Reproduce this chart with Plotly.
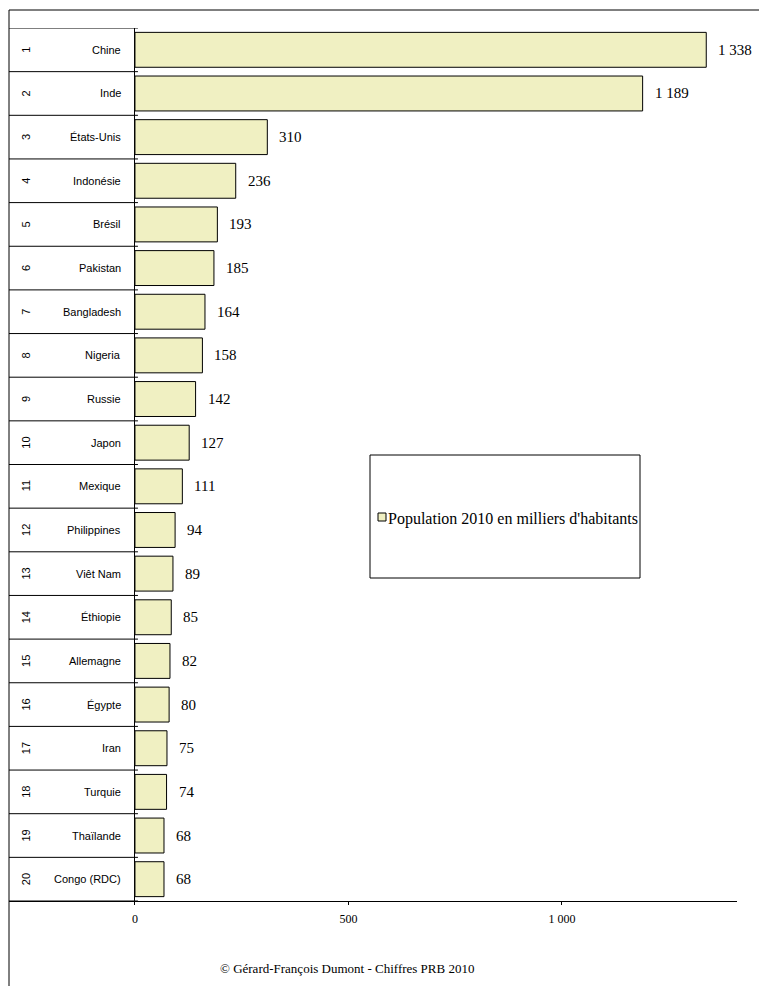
import plotly.graph_objects as go

ranks = list(range(1, 21))
countries = ["Chine", "Inde", "États-Unis", "Indonésie", "Brésil", "Pakistan",
             "Bangladesh", "Nigeria", "Russie", "Japon", "Mexique", "Philippines",
             "Viêt Nam", "Éthiopie", "Allemagne", "Égypte", "Iran", "Turquie",
             "Thaïlande", "Congo (RDC)"]
population = [1338, 1189, 310, 236, 193, 185, 164, 158, 142, 127, 111, 94,
              89, 85, 82, 80, 75, 74, 68, 68]
x_ticks = [0, 500, 1000]
x_tick_labels = ["0", "500", "1 000"]
series_name = "Population 2010 en milliers d'habitants"
credit = "© Gérard-François Dumont - Chiffres PRB 2010"


def fmt(v):
    return f"{v:,}".replace(",", " ")


XMIN, XMAX = -295, 1410
SERIF = "Liberation Serif, Times New Roman, serif"
SANS = "Liberation Sans, Arial, sans-serif"
FILL = "rgb(240,240,194)"

# page pixel geometry (the page has an 8px body offset)
PL, PR, PT, PB = 9, 737, 28, 901
W, H = PR - PL, PB - PT


def px(xp):
    return (xp - PL) / W


def py(yp):
    return (PB - yp) / H


fig = go.Figure()
fig.add_trace(go.Bar(
    x=population, y=ranks, orientation="h", name=series_name,
    marker=dict(color=FILL, line=dict(color="black", width=1)),
    hoverinfo="x+y", showlegend=False,
))

annotations = []
shapes = []
for r, c, v in zip(ranks, countries, population):
    annotations.append(dict(x=v, y=r, xref="x", yref="y", text=fmt(v),
                            showarrow=False, xanchor="left", xshift=10,
                            font=dict(family=SERIF, size=15, color="black")))
    annotations.append(dict(x=0, y=r, xref="x", yref="y", text=c,
                            showarrow=False, xanchor="right", xshift=-12,
                            font=dict(family=SANS, size=11, color="black")))
    annotations.append(dict(x=XMIN, y=r, xref="x", yref="y", text=str(r),
                            showarrow=False, xanchor="center", xshift=17,
                            textangle=-90,
                            font=dict(family=SANS, size=11, color="black")))

for k in range(0, 21):
    shapes.append(dict(type="line", xref="x", yref="y", x0=XMIN, x1=7,
                       y0=k + 0.5, y1=k + 0.5,
                       line=dict(color="black", width=1)))

# outer frame
shapes.append(dict(type="line", xref="paper", yref="paper", x0=0, x1=0,
                   y0=py(10), y1=py(995), line=dict(color="black", width=1)))
shapes.append(dict(type="line", xref="paper", yref="paper", x0=0, x1=px(775),
                   y0=py(10), y1=py(10), line=dict(color="black", width=1)))
# legend box
shapes.append(dict(type="rect", xref="paper", yref="paper",
                   x0=px(370), x1=px(640), y0=py(578), y1=py(455),
                   line=dict(color="black", width=1), fillcolor="rgba(0,0,0,0)"))
# legend key
shapes.append(dict(type="rect", xref="paper", yref="paper",
                   x0=px(378), x1=px(386), y0=py(521), y1=py(513),
                   line=dict(color="black", width=1), fillcolor=FILL))
annotations.append(dict(x=px(388), y=py(519), xref="paper", yref="paper",
                        text=series_name, showarrow=False, xanchor="left",
                        yanchor="middle", xshift=-2,
                        font=dict(family=SERIF, size=16, color="black")))

annotations.append(dict(x=px(347), y=py(968), xref="paper",
                        yref="paper", text=credit, showarrow=False,
                        xanchor="center", yanchor="middle",
                        font=dict(family=SERIF, size=13, color="black")))

fig.update_layout(
    width=767, height=986,
    margin=dict(l=PL - 8, r=767 + 8 - PR, t=PT - 8, b=986 + 8 - PB),
    paper_bgcolor="white", plot_bgcolor="white",
    bargap=0.2,
    showlegend=False,
    xaxis=dict(range=[XMIN, XMAX], tickvals=x_ticks, ticktext=x_tick_labels,
               showgrid=False, zeroline=True, zerolinecolor="black",
               zerolinewidth=1, showline=True, linecolor="black", linewidth=1,
               ticks="outside", ticklen=3, tickcolor="black",
               ticklabelstandoff=4,
               tickfont=dict(family=SERIF, size=12, color="black")),
    yaxis=dict(range=[20.5, 0.5], showgrid=False, zeroline=False,
               showticklabels=False, showline=False),
    annotations=annotations,
    shapes=shapes,
)

fig.write_html("out.html")
